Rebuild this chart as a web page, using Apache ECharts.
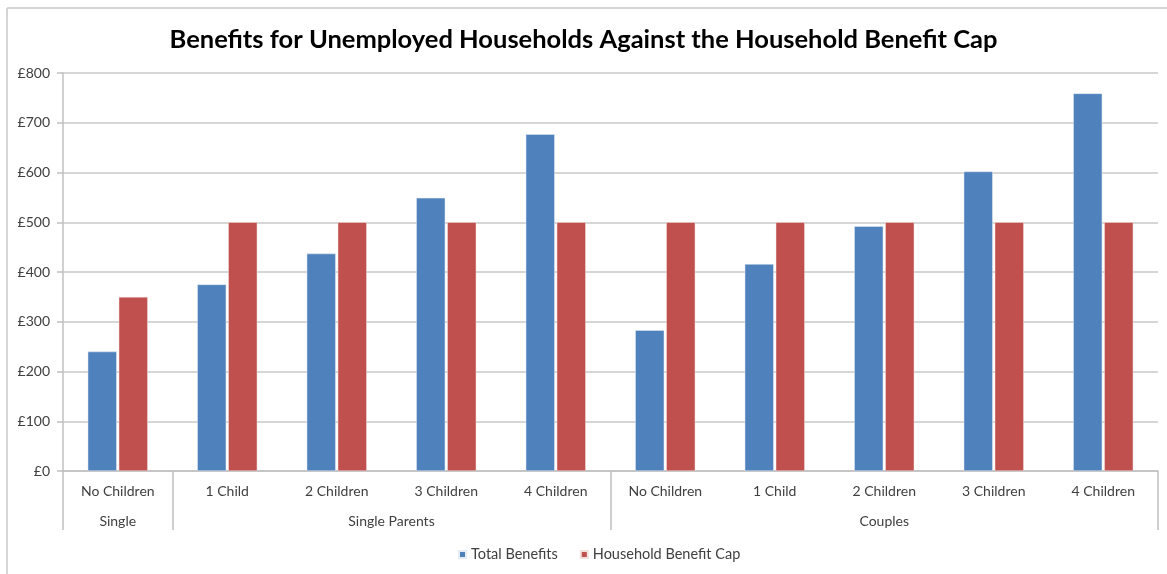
<!DOCTYPE html>
<html>
<head>
<meta charset="utf-8">
<script src="https://cdn.jsdelivr.net/npm/echarts@6/dist/echarts.min.js"></script>
<style>
  html, body { margin: 0; padding: 0; background: #fff; }
  #chart { width: 1167px; height: 574px; }
</style>
</head>
<body>
<div id="chart"></div>
<script>
// categories and values
const categories = ['No Children', '1 Child', '2 Children', '3 Children', '4 Children',
  'No Children', '1 Child', '2 Children', '3 Children', '4 Children'];
const groups = ['Single', 'Single Parents', 'Couples'];
const groupBounds = [0, 1, 5, 10];
const groupCenters = [0.5, 3, 7.5];
const totalBenefits = [240, 375, 437, 549, 677, 283, 416, 492, 602, 759];
const benefitCap = [350, 500, 500, 500, 500, 500, 500, 500, 500, 500];
const yTicks = [0, 100, 200, 300, 400, 500, 600, 700, 800];

const font = 'Lato, "Open Sans", sans-serif';
const myChart = echarts.init(document.getElementById('chart'));

const option = {
  backgroundColor: '#fff',
  textStyle: {fontFamily: font},
  title: {
    text: 'Benefits for Unemployed Households Against the Household Benefit Cap',
    left: 'center',
    top: 22,
    textStyle: {fontSize: 25.5, fontWeight: 'bold', color: '#000', fontFamily: font}
  },
  legend: {
    bottom: 7,
    left: 453,
    itemWidth: 7,
    itemHeight: 7,
    itemGap: 22,
    icon: 'rect',
    textStyle: {fontSize: 14.5, color: '#404040', fontFamily: font},
    data: ['Total Benefits', 'Household Benefit Cap']
  },
  grid: {left: 63, right: 9, top: 73, bottom: 103},
  graphic: [
    // chart frame (top and left edges visible in the reference)
    {type: 'line', shape: {x1: 7, y1: 8, x2: 1167, y2: 8}, style: {stroke: '#c8c8c8', lineWidth: 1.5}},
    {type: 'line', shape: {x1: 7, y1: 8, x2: 7, y2: 574}, style: {stroke: '#c8c8c8', lineWidth: 1.5}}
  ],
  xAxis: [
    {
      type: 'category',
      data: categories,
      axisLine: {lineStyle: {color: '#c0c0c0', width: 1.5}},
      axisTick: {interval: 0, length: 30, lineStyle: {color: '#c0c0c0', width: 1.5}},
      axisLabel: {interval: 0, margin: 13, fontSize: 14, color: '#404040', fontFamily: font}
    },
    {
      type: 'value',
      position: 'bottom',
      min: 0,
      max: 10,
      axisLine: {show: false},
      splitLine: {show: false},
      axisTick: {
        show: true,
        length: 59,
        customValues: groupBounds,
        lineStyle: {color: '#c0c0c0', width: 1.5}
      },
      axisLabel: {
        customValues: groupCenters,
        margin: 43,
        fontSize: 14,
        color: '#404040',
        fontFamily: font,
        formatter: v => groups[groupCenters.indexOf(v)]
      }
    }
  ],
  yAxis: {
    type: 'value',
    min: 0,
    max: 800,
    interval: 100,
    axisLine: {show: true, lineStyle: {color: '#c0c0c0', width: 1.5}},
    axisTick: {show: true, length: 6, lineStyle: {color: '#c0c0c0', width: 1.5}},
    splitLine: {lineStyle: {color: '#c8c8c8', width: 1.5}},
    axisLabel: {
      margin: 13,
      fontSize: 14,
      color: '#404040',
      fontFamily: font,
      formatter: v => yTicks.indexOf(v) >= 0 ? '£' + v : ''
    }
  },
  series: [
    {
      name: 'Total Benefits',
      type: 'bar',
      data: totalBenefits,
      barWidth: 29,
      barGap: '7%',
      itemStyle: {color: '#4f81bd', borderColor: '#e6ecf4', borderWidth: 0.5}
    },
    {
      name: 'Household Benefit Cap',
      type: 'bar',
      data: benefitCap,
      barWidth: 29,
      itemStyle: {color: '#c0504d', borderColor: '#f2e0df', borderWidth: 0.5}
    }
  ]
};

myChart.setOption(option);
window.addEventListener('resize', () => {
  myChart.resize();
});
</script>
</body>
</html>
